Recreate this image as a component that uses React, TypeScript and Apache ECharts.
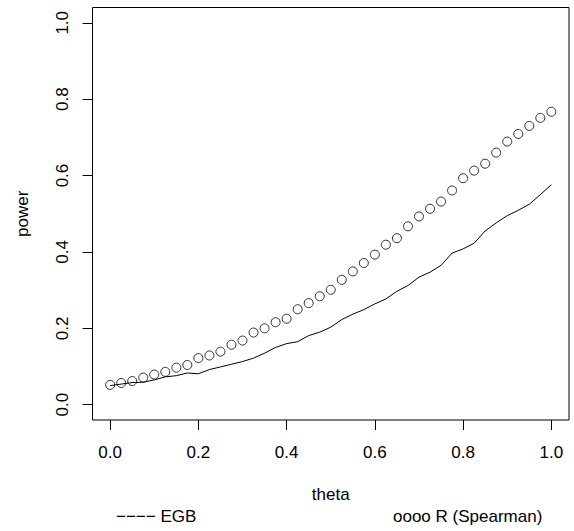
import React, { useEffect, useRef } from "react";
import * as echarts from "echarts";

const theta = [
  0, 0.025, 0.05, 0.075, 0.1, 0.125, 0.15, 0.175, 0.2, 0.225, 0.25, 0.275, 0.3, 0.325,
  0.35, 0.375, 0.4, 0.425, 0.45, 0.475, 0.5, 0.525, 0.55, 0.575, 0.6, 0.625, 0.65, 0.675,
  0.7, 0.725, 0.75, 0.775, 0.8, 0.825, 0.85, 0.875, 0.9, 0.925, 0.95, 0.975, 1,
];

const egbPower = [
  0.05, 0.054, 0.058, 0.059, 0.065, 0.073, 0.076, 0.083, 0.081, 0.092, 0.099, 0.106, 0.113,
  0.122, 0.135, 0.15, 0.16, 0.165, 0.181, 0.19, 0.203, 0.223, 0.237, 0.249, 0.264, 0.277,
  0.297, 0.312, 0.334, 0.347, 0.365, 0.397, 0.408, 0.423, 0.455, 0.476, 0.495, 0.509, 0.525,
  0.55, 0.576,
];

const spearmanPower = [
  0.052, 0.057, 0.062, 0.071, 0.079, 0.086, 0.097, 0.104, 0.122, 0.129, 0.139, 0.157, 0.168,
  0.189, 0.2, 0.216, 0.225, 0.25, 0.266, 0.284, 0.301, 0.327, 0.349, 0.371, 0.393, 0.419,
  0.436, 0.467, 0.493, 0.513, 0.532, 0.561, 0.593, 0.613, 0.631, 0.66, 0.689, 0.709, 0.73,
  0.751, 0.767,
];

const xTicks = [0, 0.2, 0.4, 0.6, 0.8, 1];
const yTicks = [0, 0.2, 0.4, 0.6, 0.8, 1];

const FONT = "'Liberation Sans', Arial, Helvetica, sans-serif";

export default function App() {
  const ref = useRef<HTMLDivElement>(null);

  useEffect(() => {
    if (!ref.current) return;
    const chart = echarts.init(ref.current, undefined, { renderer: "svg" });
    chart.setOption({
      animation: false,
      backgroundColor: "#ffffff",
      textStyle: { fontFamily: FONT },
      grid: {
        left: 92.5,
        top: 7.5,
        width: 476.5,
        height: 412.5,
        show: true,
        borderColor: "#000",
        borderWidth: 1,
        backgroundColor: "transparent",
      },
      xAxis: {
        type: "value",
        min: -0.04,
        max: 1.04,
        name: "theta",
        nameLocation: "middle",
        nameGap: 66,
        nameTextStyle: { fontSize: 17, color: "#000", fontFamily: FONT },
        axisLine: { show: false, onZero: false },
        splitLine: { show: false },
        axisTick: {
          show: true,
          inside: false,
          length: 10,
          customValues: xTicks,
          lineStyle: { color: "#000", width: 1 },
        },
        axisLabel: {
          customValues: xTicks,
          margin: 24,
          fontSize: 17,
          color: "#000",
          fontFamily: FONT,
          formatter: (v: number) => v.toFixed(1),
        },
      },
      yAxis: {
        type: "value",
        min: -0.04,
        max: 1.04,
        name: "power",
        nameLocation: "middle",
        nameGap: 62,
        nameRotate: 90,
        nameTextStyle: { fontSize: 17, color: "#000", fontFamily: FONT },
        axisLine: { show: false, onZero: false },
        splitLine: { show: false },
        axisTick: {
          show: true,
          inside: false,
          length: 10,
          customValues: yTicks,
          lineStyle: { color: "#000", width: 1 },
        },
        axisLabel: {
          customValues: yTicks,
          rotate: 90,
          margin: 22,
          fontSize: 17,
          color: "#000",
          fontFamily: FONT,
          formatter: (v: number) => v.toFixed(1),
        },
      },
      series: [
        {
          name: "EGB",
          type: "line",
          data: theta.map((t, i) => [t, egbPower[i]]),
          showSymbol: false,
          symbol: "none",
          lineStyle: { color: "#000", width: 1 },
          z: 2,
        },
        {
          name: "R (Spearman)",
          type: "scatter",
          data: theta.map((t, i) => [t, spearmanPower[i]]),
          symbol: "circle",
          symbolSize: 9,
          itemStyle: { color: "rgba(0,0,0,0)", borderColor: "#000", borderWidth: 1 },
          z: 3,
        },
      ],
      graphic: [
        {
          type: "text",
          left: 116,
          top: 508,
          style: { text: "\u2212\u2212\u2212\u2212 EGB", fontSize: 17, fill: "#000", fontFamily: FONT },
        },
        {
          type: "text",
          left: 393,
          top: 508,
          style: { text: "oooo R (Spearman)", fontSize: 17, fill: "#000", fontFamily: FONT },
        },
      ],
    });
    return () => chart.dispose();
  }, []);

  return (
    <div
      ref={ref}
      style={{ position: "fixed", left: 0, top: 0, width: 574, height: 531, background: "#fff" }}
    />
  );
}
